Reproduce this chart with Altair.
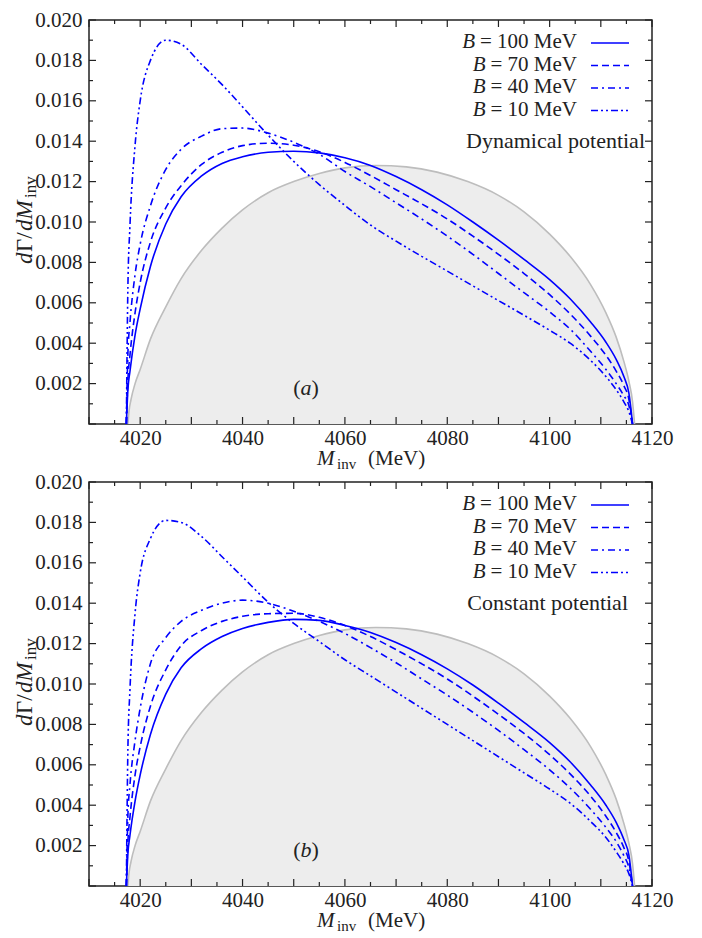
import altair as alt
import pandas as pd

FONT = "Liberation Serif"

# ---------------- values ----------------
x_label_values = [4020, 4040, 4060, 4080, 4100, 4120]
y_label_values = [0.002, 0.004, 0.006, 0.008, 0.010, 0.012, 0.014, 0.016, 0.018, 0.020]
binding_energies = [100, 70, 40, 10]
legend_rest = ["= 100 MeV", "= 70 MeV", "= 40 MeV", "= 10 MeV"]
panel_notes = ["Dynamical potential", "Constant potential"]
panel_tags = ["a", "b"]

# phase space (grey)
phase_m = [4017.6, 4017.8, 4018.2, 4019, 4020, 4022, 4025, 4028, 4032, 4036, 4040, 4045, 4050, 4055, 4060,
           4066, 4072, 4078, 4084, 4090, 4095, 4100, 4104, 4108, 4111, 4113, 4114.5, 4115.5, 4116.2, 4116.6]
phase_rate = [0, 0.0006, 0.0012, 0.0020, 0.0027, 0.0042, 0.0058, 0.0072, 0.0086, 0.0097, 0.0106, 0.01145,
              0.0120, 0.0124, 0.01268, 0.0128, 0.01273, 0.01247, 0.01200, 0.01132, 0.0105, 0.0094, 0.0083,
              0.0069, 0.0055, 0.0043, 0.0031, 0.0021, 0.0011, 0]

# invariant-mass points at which the curves were read
m_grid = [4017.3, 4017.6, 4018, 4019, 4020, 4022, 4025, 4028, 4032, 4036, 4040, 4045, 4050, 4055, 4060,
          4065, 4070, 4075, 4080, 4085, 4090, 4095, 4100, 4104, 4108, 4111, 4113, 4114.5, 4115.5, 4116.2]

# panel (a): dynamical potential
dyn_100 = [0, 0.0017, 0.0026, 0.0044, 0.0057, 0.0078, 0.0099, 0.01125, 0.01228, 0.0129, 0.01323, 0.01345,
           0.0135, 0.01342, 0.01318, 0.0128, 0.01225, 0.0116, 0.01085, 0.0100, 0.0091, 0.00815, 0.00715,
           0.0062, 0.00505, 0.00405, 0.0032, 0.00235, 0.0015, 0]
dyn_70 = [0, 0.0022, 0.0034, 0.0055, 0.0070, 0.0090, 0.0107, 0.0118, 0.01285, 0.01345, 0.01378, 0.0139,
          0.0138, 0.01348, 0.01295, 0.0123, 0.0116, 0.0109, 0.01015, 0.0093, 0.0084, 0.00745, 0.0064,
          0.00545, 0.00435, 0.0034, 0.00262, 0.0019, 0.0012, 0]
dyn_40 = [0, 0.0035, 0.0050, 0.0074, 0.0089, 0.0108, 0.0126, 0.0136, 0.01425, 0.01462, 0.01465, 0.0144,
          0.01395, 0.01335, 0.0125, 0.01175, 0.01095, 0.01015, 0.0093, 0.0084, 0.00745, 0.0065, 0.00555,
          0.0047, 0.0036, 0.0027, 0.0020, 0.0014, 0.0009, 0]
dyn_10 = [0, 0.0068, 0.0098, 0.0138, 0.0160, 0.0180, 0.0190, 0.0188, 0.0178, 0.0168, 0.0157, 0.0143,
          0.0130, 0.01185, 0.01082, 0.00985, 0.00905, 0.0083, 0.00757, 0.00684, 0.00611, 0.00538, 0.00464,
          0.0040, 0.00315, 0.00235, 0.0017, 0.0011, 0.0006, 0]

# panel (b): constant potential
con_100 = [0, 0.0016, 0.0025, 0.0042, 0.0055, 0.0075, 0.0095, 0.0108, 0.01175, 0.01235, 0.01275, 0.01305,
           0.0132, 0.01315, 0.0129, 0.01255, 0.01205, 0.01145, 0.01075, 0.00995, 0.00905, 0.0081, 0.0071,
           0.00615, 0.0050, 0.0040, 0.00315, 0.0023, 0.0015, 0]
con_70 = [0, 0.0022, 0.0034, 0.0055, 0.0069, 0.0089, 0.0107, 0.0119, 0.01265, 0.0131, 0.01335, 0.01348,
          0.0135, 0.0133, 0.0129, 0.01235, 0.0117, 0.0110, 0.01025, 0.0094, 0.0085, 0.00755, 0.0065,
          0.00555, 0.00445, 0.00345, 0.00265, 0.0019, 0.0012, 0]
con_40 = [0, 0.0035, 0.0050, 0.0072, 0.0088, 0.0110, 0.0123, 0.0131, 0.01365, 0.0140, 0.01415, 0.0140,
          0.0136, 0.0131, 0.0125, 0.0118, 0.01105, 0.01025, 0.00945, 0.0086, 0.0077, 0.00675, 0.00575,
          0.00485, 0.0038, 0.0029, 0.0022, 0.0015, 0.0009, 0]
con_10 = [0, 0.0068, 0.0097, 0.0135, 0.0155, 0.0172, 0.0181, 0.0180, 0.0173, 0.0163, 0.0153, 0.01405,
          0.0130, 0.0121, 0.0112, 0.0104, 0.0096, 0.0088, 0.0080, 0.0072, 0.0064, 0.0056, 0.0048,
          0.0041, 0.0032, 0.0024, 0.0017, 0.0011, 0.0006, 0]

# ---------------- styling ----------------
W, H = 563, 404
BLUE = "#0000ff"
DASHES = [None, [7, 4], [7, 4, 2, 4], [7, 3, 2, 3, 2, 3]]
INK = "#222222"

xscale = alt.Scale(domain=[4010, 4120], nice=False, zero=False)
yscale = alt.Scale(domain=[0, 0.02], nice=False, zero=False)


def X(field="M"):
    return alt.X(f"{field}:Q", scale=xscale,
                 axis=alt.Axis(values=x_label_values, format="d", tickSize=0, domain=False, grid=False,
                               title=None, labelPadding=3, labelFlush=False, labelOverlap=False))


def Y(field="rate"):
    return alt.Y(f"{field}:Q", scale=yscale,
                 axis=alt.Axis(values=y_label_values, format=".3f", tickSize=0, domain=False, grid=False,
                               title=None, labelPadding=7, labelOverlap=False, labelFlush=False))


dummy = pd.DataFrame({"k": [0]})


def text_layer(txt, x, y, size=21, align="left", style="normal", angle=0, dx=0, dy=0):
    kw = dict(text=txt, font=FONT, fontSize=size, align=align, baseline="middle",
              fontStyle=style, color=INK, dx=dx, dy=dy)
    if angle:
        kw["angle"] = angle
    return alt.Chart(dummy).mark_text(**kw).encode(x=alt.value(x), y=alt.value(y))


phase_df = pd.DataFrame({"M": phase_m, "rate": phase_rate})

xt_major = pd.DataFrame({"M": list(range(4010, 4121, 10))})
xt_minor = pd.DataFrame({"M": list(range(4015, 4120, 10))})
yt_major = pd.DataFrame({"rate": [i * 0.002 for i in range(0, 11)]})
yt_minor = pd.DataFrame({"rate": [0.001 + i * 0.002 for i in range(0, 10)]})


def tick_layers():
    out = []
    for df, ln in ((xt_major, 7), (xt_minor, 4)):
        out.append(alt.Chart(df).mark_rule(color=INK, strokeWidth=1.2).encode(
            x=X(), y=alt.value(H), y2=alt.value(H - ln)))
        out.append(alt.Chart(df).mark_rule(color=INK, strokeWidth=1.2).encode(
            x=X(), y=alt.value(0), y2=alt.value(ln)))
    for df, ln in ((yt_major, 7), (yt_minor, 4)):
        out.append(alt.Chart(df).mark_rule(color=INK, strokeWidth=1.2).encode(
            y=Y(), x=alt.value(0), x2=alt.value(ln)))
        out.append(alt.Chart(df).mark_rule(color=INK, strokeWidth=1.2).encode(
            y=Y(), x=alt.value(W), x2=alt.value(W - ln)))
    return out


# approx. Times advance widths (em) for placing the italic B
ADV = {"=": 0.564, " ": 0.25, "M": 0.889, "e": 0.444, "V": 0.722}


def text_width(s, size):
    return sum(ADV.get(c, 0.5) for c in s) * size


def make_panel(curves, note, tag, note_x):
    layers = [
        alt.Chart(phase_df).mark_area(color="#ededed", interpolate="monotone").encode(x=X(), y=Y()),
        alt.Chart(phase_df).mark_line(color="#bdbdbd", strokeWidth=1.6, interpolate="monotone").encode(x=X(), y=Y()),
    ]
    for r, dash in zip(curves, DASHES):
        df = pd.DataFrame({"M": m_grid, "rate": r})
        kw = dict(color=BLUE, strokeWidth=1.6, interpolate="monotone")
        if dash:
            kw["strokeDash"] = dash
        layers.append(alt.Chart(df).mark_line(**kw).encode(x=X(), y=Y()))
    layers += tick_layers()

    # legend
    row_y = [22, 44.5, 67, 89.5]
    FS = 21
    for i, (rest, dash) in enumerate(zip(legend_rest, DASHES)):
        kw = dict(color=BLUE, strokeWidth=1.7)
        if dash:
            kw["strokeDash"] = dash
        layers.append(alt.Chart(dummy).mark_rule(**kw).encode(
            x=alt.value(502), x2=alt.value(540), y=alt.value(row_y[i] + 1)))
        layers.append(text_layer(rest, 488, row_y[i], size=FS, align="right"))
        layers.append(text_layer("B", 488 - text_width(rest, FS) - 5, row_y[i], size=FS,
                                 align="right", style="italic"))
    layers.append(text_layer(note, note_x, 121, size=22, align="right"))

    # panel tag "(a)" / "(b)" with italic letter
    ty = H - 36
    layers.append(text_layer("(", 211.5, ty, size=22, align="right"))
    layers.append(text_layer(tag, 217, ty, size=22, align="center", style="italic"))
    layers.append(text_layer(")", 222.5, ty, size=22, align="left"))

    # x title: M_inv (MeV)
    layers.append(text_layer("M", 228, H + 35, size=21, style="italic"))
    layers.append(text_layer("inv", 248, H + 40, size=15))
    layers.append(text_layer("(MeV)", 279, H + 35, size=21))

    # y title: dΓ/dM_inv (rotated)
    yx, yb = -64, 244
    layers.append(text_layer("d", yx, yb, size=23, style="italic", angle=270))
    layers.append(text_layer("Γ/", yx, yb, size=23, angle=270, dx=12))
    layers.append(text_layer("dM", yx, yb, size=23, style="italic", angle=270, dx=33))
    layers.append(text_layer("inv", yx, yb, size=17, angle=270, dx=66, dy=6))

    return alt.layer(*layers).properties(width=W, height=H)


panel_a = make_panel([dyn_100, dyn_70, dyn_40, dyn_10], panel_notes[0], panel_tags[0], 556)
panel_b = make_panel([con_100, con_70, con_40, con_10], panel_notes[1], panel_tags[1], 539)

chart = alt.vconcat(panel_a, panel_b, spacing=58, bounds="flush").configure_view(
    stroke=INK, strokeWidth=1.5
).configure_axis(
    labelFont=FONT, labelFontSize=21, labelColor=INK
).properties(padding={"left": 5, "top": 0, "right": 5, "bottom": 5})

chart.save("out.html", embed_options={"renderer": "svg", "actions": False})
